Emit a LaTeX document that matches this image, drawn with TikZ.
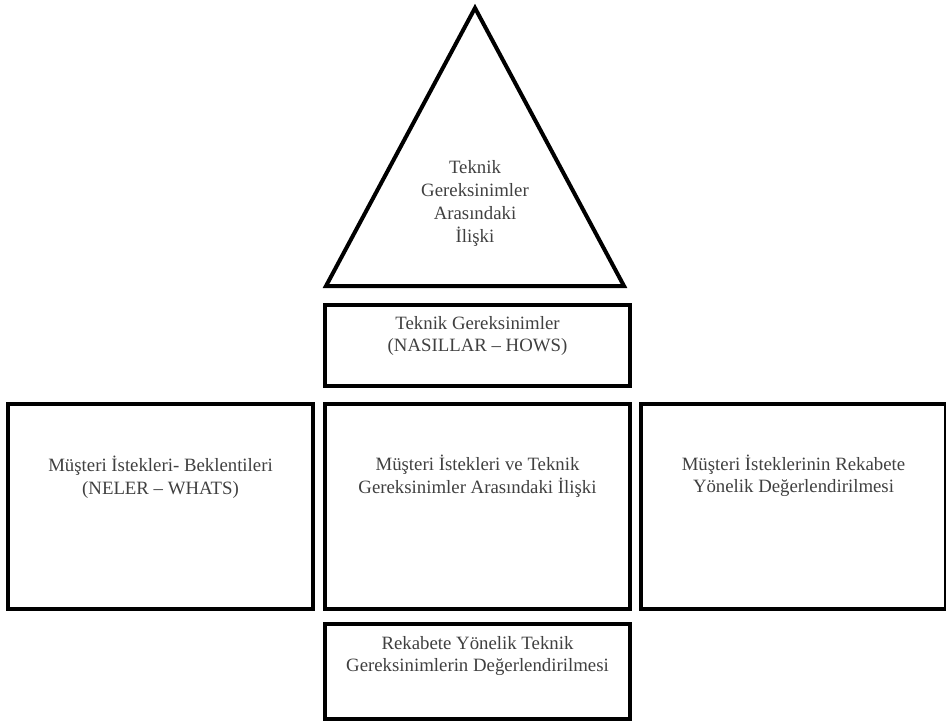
\documentclass[tikz,border=0pt]{standalone}
\usepackage{fontspec}
\setmainfont{Liberation Serif}
\usetikzlibrary{positioning}

\begin{document}
\begin{tikzpicture}[x=1pt,y=-1pt,
  kutu/.style={draw,line width=4pt,rectangle,inner sep=0pt,outer sep=0pt,minimum width=305pt},
  yazi/.style={text=black!75,font=\fontsize{18.8}{22.5}\selectfont,align=center}]
\useasboundingbox (0,0) rectangle (946,721);
% orta satir
\node[kutu,minimum height=205pt] (iliski) at (477.5,506.5) {};
\node[kutu,minimum height=205pt,left=12pt of iliski] (neler) {};
\node[kutu,minimum height=205pt,right=11pt of iliski] (rekabet) {};
% ust ve alt kutular
\node[kutu,minimum height=81pt,above=18pt of iliski] (nasillar) {};
\node[kutu,minimum height=95pt,below=15pt of iliski] (teknikdeg) {};
% cati
\coordinate (tepe) at (475,8);
\coordinate (solalt) at (326,286);
\coordinate (sagalt) at (624,286);
\draw[line width=4pt,line join=miter] (tepe) -- (sagalt) -- (solalt) -- cycle;
\node[yazi,font=\fontsize{18.8}{23}\selectfont] (cati-t) at (475,203) {Teknik\\Gereksinimler\\Arasındaki\\İlişki};
% yazilar
\node[yazi] (nasillar-t) at ([yshift=-31pt]nasillar.north) {Teknik Gereksinimler\\(NASILLAR – HOWS)};
\node[yazi] (neler-t) at ([yshift=-73pt]neler.north) {Müşteri İstekleri- Beklentileri\\(NELER – WHATS)};
\node[yazi] (iliski-t) at ([yshift=-72pt]iliski.north) {Müşteri İstekleri ve Teknik\\Gereksinimler Arasındaki İlişki};
\node[yazi] (rekabet-t) at ([yshift=-72pt]rekabet.north) {Müşteri İsteklerinin Rekabete\\Yönelik Değerlendirilmesi};
\node[yazi] (teknikdeg-t) at ([yshift=-32pt]teknikdeg.north) {Rekabete Yönelik Teknik\\Gereksinimlerin Değerlendirilmesi};
\end{tikzpicture}
\end{document}
